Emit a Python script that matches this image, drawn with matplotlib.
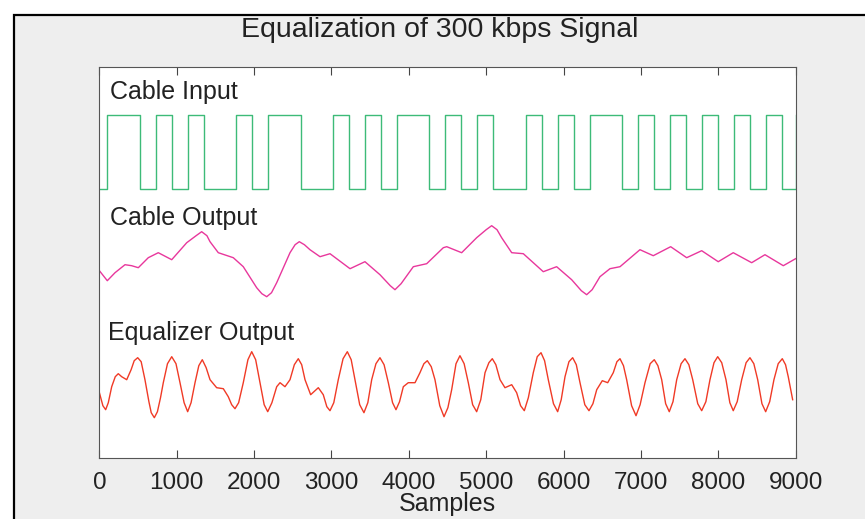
import matplotlib
matplotlib.use("Agg")
import matplotlib.pyplot as plt
from matplotlib.patches import Rectangle

plt.rcParams["font.family"] = ["Liberation Sans", "DejaVu Sans"]

# signal values (arbitrary vertical units, x in samples)
input_edges = [0, 102, 525, 728, 935, 1141, 1356, 1766, 1969, 2183, 2602, 3016, 3223,
               3433, 3636, 3843, 4265, 4468, 4678, 4881, 5092, 5511, 5718, 5924, 6131,
               6342, 6752, 6966, 7165, 7376, 7583, 7794, 8000, 8207, 8410, 8617, 8828, 9000]
input_low = 269
input_high = 343

cable_x = [0, 102, 202, 331, 417, 503, 632, 761, 935, 1129, 1250, 1322, 1390, 1430, 1537,
           1731, 1860, 2033, 2100, 2163, 2225, 2292, 2464, 2530, 2584, 2650, 2722, 2852,
           2981, 3240, 3433, 3627, 3760, 3821, 3900, 4058, 4231, 4446, 4490, 4683, 4877,
           5000, 5071, 5140, 5200, 5330, 5480, 5609, 5738, 5911, 6105, 6230, 6299, 6370,
           6471, 6600, 6730, 6988, 7160, 7385, 7592, 7786, 8000, 8194, 8432, 8604, 8841, 9000]
cable_y = [187, 177, 185, 193, 192, 190, 200, 205, 198, 215, 222, 226, 222, 216, 205,
           200, 191, 170, 164, 161, 165, 175, 205, 213, 216, 213, 208, 201,
           204, 189, 196, 183, 172, 168, 174, 191, 194, 210, 211, 205, 220,
           228, 232, 228, 220, 205, 204, 195, 186, 191, 178, 167, 163, 168,
           181, 189, 191, 208, 202, 211, 200, 207, 196, 205, 195, 203, 192, 199]

eq_x = [0, 45, 81, 115, 159, 205, 244, 288, 353, 410, 450, 495, 540, 589, 640, 670, 710,
        750, 790, 826, 880, 935, 990, 1042, 1095, 1141, 1185, 1236, 1285, 1330, 1380, 1430,
        1516, 1602, 1666, 1710, 1753, 1800, 1860, 1920, 1969, 2020, 2076, 2130, 2176, 2230,
        2292, 2335, 2399, 2464, 2520, 2571, 2615, 2658, 2731, 2830, 2894, 2940, 2981, 3030,
        3088, 3150, 3205, 3255, 3304, 3365, 3420, 3470, 3520, 3575, 3627, 3680, 3735, 3790,
        3834, 3880, 3929, 3993, 4080, 4144, 4195, 4239, 4290, 4338, 4400, 4455, 4505, 4554,
        4610, 4661, 4715, 4769, 4825, 4877, 4930, 4985, 5035, 5079, 5125, 5179, 5243, 5330,
        5394, 5445, 5493, 5545, 5609, 5660, 5709, 5755, 5803, 5870, 5924, 5970, 6019, 6070,
        6118, 6165, 6213, 6275, 6329, 6380, 6429, 6501, 6571, 6643, 6690, 6730, 6775, 6816,
        6880, 6937, 6990, 7053, 7120, 7173, 7220, 7269, 7320, 7367, 7415, 7463, 7520, 7570,
        7620, 7670, 7735, 7786, 7840, 7893, 7945, 7993, 8045, 8100, 8150, 8194, 8245, 8303,
        8360, 8410, 8460, 8510, 8565, 8613, 8665, 8720, 8775, 8828, 8870, 8905, 8962]
eq_y = [65, 52, 48, 55, 71, 81, 84, 81, 78, 88, 97, 100, 96, 78, 56, 45, 40,
        46, 60, 75, 94, 101, 94, 75, 55, 46, 55, 75, 92, 98, 90, 78,
        70, 69, 61, 53, 49, 55, 75, 98, 106, 98, 75, 53, 46, 55,
        71, 75, 71, 78, 93, 99, 93, 78, 63, 70, 63, 51, 47, 55,
        78, 99, 106, 98, 78, 53, 45, 55, 78, 94, 100, 93, 75, 55,
        48, 56, 71, 75, 75, 85, 94, 97, 91, 78, 52, 41, 50, 68,
        94, 102, 94, 75, 53, 46, 58, 85, 95, 99, 93, 78, 70, 73,
        65, 52, 47, 60, 85, 101, 105, 97, 78, 54, 46, 58, 81, 96,
        100, 93, 75, 53, 47, 54, 68, 77, 75, 85, 96, 99, 92, 78,
        52, 42, 53, 75, 94, 98, 92, 78, 54, 46, 56, 78, 94, 99,
        93, 78, 54, 47, 56, 78, 95, 101, 95, 78, 55, 47, 56, 78,
        95, 100, 94, 78, 54, 46, 56, 78, 94, 99, 93, 81, 58]

labels = ["Cable Input", "Cable Output", "Equalizer Output"]
label_x = [137, 137, 111]
label_y = [366, 240, 125]
xticks = [0, 1000, 2000, 3000, 4000, 5000, 6000, 7000, 8000, 9000]

fig = plt.figure(figsize=(8.65, 5.19), dpi=100, facecolor="white")
# grey panel with black frame on left/top (cropped on the other sides)
fig.patches.append(Rectangle((14 / 865, -0.1), 1.2, 0.1 + 504 / 519, transform=fig.transFigure,
                             facecolor="#eeeeee", edgecolor="black", linewidth=1.6, zorder=-10))

ax = fig.add_axes([99.4 / 865, 61.3 / 519, 696.2 / 865, 391.2 / 519])
ax.set_facecolor("white")

levels = [input_low if i % 2 == 0 else input_high for i in range(len(input_edges))]
ax.plot(input_edges, levels, drawstyle="steps-post", color="#3dbb78", linewidth=1.0)
ax.plot(cable_x, cable_y, color="#e8379c", linewidth=1.0)
ax.plot(eq_x, eq_y, color="#f03a26", linewidth=1.0)

for txt, lx, ly in zip(labels, label_x, label_y):
    ax.text(lx, ly, txt, fontsize=18, color="#222222", ha="left", va="center")

ax.set_xlim(0, 9000)
ax.set_ylim(0, 391.2)
ax.set_xticks(xticks)
ax.set_xticklabels([str(t) for t in xticks], fontsize=17.5, color="#222222")
ax.set_yticks([])
ax.tick_params(axis="x", direction="in", length=6, width=0.8, top=True, color="#444444", pad=10)
for s in ax.spines.values():
    s.set_color("#555555")
    s.set_linewidth(0.8)
ax.set_xlabel("Samples", fontsize=18, color="#222222", labelpad=-1)

fig.text(440 / 865, 1 - 30 / 519, "Equalization of 300 kbps Signal", fontsize=20.5,
         color="#222222", ha="center", va="center")

fig.savefig("out.png", dpi=100, facecolor=fig.get_facecolor())
